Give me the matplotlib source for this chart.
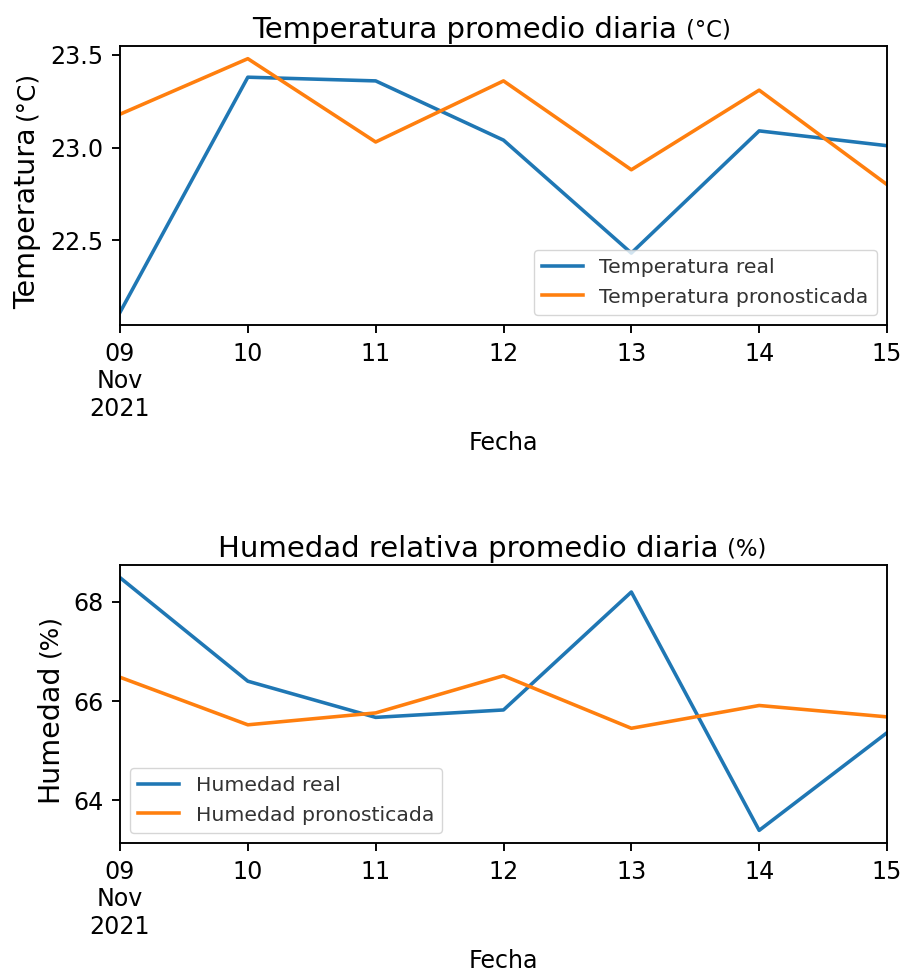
import matplotlib
matplotlib.use("Agg")
import matplotlib.pyplot as plt
import matplotlib.dates as mdates
from matplotlib.ticker import FuncFormatter, MultipleLocator, FormatStrFormatter
import pandas as pd

# Daily averages, 9-15 Nov 2021
fechas = pd.to_datetime(["2021-11-09", "2021-11-10", "2021-11-11", "2021-11-12",
                         "2021-11-13", "2021-11-14", "2021-11-15"])
temp_real = [22.11, 23.38, 23.36, 23.04, 22.43, 23.09, 23.01]
temp_pron = [23.18, 23.48, 23.03, 23.36, 22.88, 23.31, 22.80]
hum_real = [68.49, 66.40, 65.67, 65.82, 68.20, 63.39, 65.36]
hum_pron = [66.48, 65.52, 65.76, 66.51, 65.45, 65.91, 65.68]

S = 1.71  # overall scale of fonts and lines
FS_TICK = 10 * S
FS_TITLE = 12.25 * S
FS_YLABEL = 12 * S
FS_UNIT = 9.6 * S
FS_YUNIT = 10.5 * S
FS_LEG = 8.6 * S
LW = 1.5 * S

plt.rcParams.update({
    "font.family": ["DejaVu Sans"],
    "axes.linewidth": 0.8 * S,
    "xtick.major.size": 3.5 * S, "ytick.major.size": 3.5 * S,
    "xtick.major.width": 0.8 * S, "ytick.major.width": 0.8 * S,
    "xtick.major.pad": 3.5 * S, "ytick.major.pad": 3.5 * S,
    "xtick.labelsize": FS_TICK, "ytick.labelsize": FS_TICK,
})

fig = plt.figure(figsize=(9.04, 9.75), dpi=100)
ax1 = fig.add_axes([120 / 904, 1 - 325 / 975, 767 / 904, 279 / 975])
ax2 = fig.add_axes([120 / 904, 1 - 843 / 975, 767 / 904, 278 / 975])


def date_label(x, pos=None):
    d = mdates.num2date(x)
    if d.day == fechas[0].day and d.month == fechas[0].month:
        return d.strftime("%d\n%b\n%Y")
    return d.strftime("%d")


def style_axis(ax, step, fmt):
    ax.set_xlim(fechas[0], fechas[-1])
    ax.xaxis.set_major_locator(mdates.DayLocator())
    ax.xaxis.set_major_formatter(FuncFormatter(date_label))
    ax.yaxis.set_major_locator(MultipleLocator(step))
    ax.yaxis.set_major_formatter(FormatStrFormatter(fmt))
    ax.set_xlabel("Fecha", fontsize=FS_TICK, labelpad=4 * S)


ax1.plot(fechas, temp_real, color="#1f77b4", lw=LW, label="Temperatura real")
ax1.plot(fechas, temp_pron, color="#ff7f0e", lw=LW, label="Temperatura pronosticada")
style_axis(ax1, 0.5, "%.1f")
ax1.legend(loc="lower right", fontsize=FS_LEG, labelcolor="#333333")

ax2.plot(fechas, hum_real, color="#1f77b4", lw=LW, label="Humedad real")
ax2.plot(fechas, hum_pron, color="#ff7f0e", lw=LW, label="Humedad pronosticada")
style_axis(ax2, 2, "%d")
ax2.legend(loc="lower left", fontsize=FS_LEG, labelcolor="#333333")


def split_title(ax, main, unit):
    t = ax.set_title(f"{main} {unit}", fontsize=FS_TITLE, pad=5.5)
    fig.canvas.draw()
    r = fig.canvas.get_renderer()
    bb = t.get_window_extent(r)
    abb = ax.get_window_extent(r)
    t.set_text(main)
    t.set_ha("left")
    t.set_x((bb.x0 - 5 - abb.x0) / abb.width)
    ax.annotate(unit, xy=(1, 0.5), xycoords=t, xytext=(6, 0),
                textcoords="offset points", ha="left", va="center",
                fontsize=FS_UNIT)


def split_ylabel(ax, main, unit):
    lab = ax.set_ylabel(f"{main} {unit}", fontsize=FS_YLABEL, labelpad=4 * S)
    fig.canvas.draw()
    r = fig.canvas.get_renderer()
    bb = lab.get_window_extent(r)
    abb = ax.get_window_extent(r)
    lab.set_text(main)
    lab.set_ha("left")
    lab.set_y((bb.y0 - abb.y0) / abb.height)
    ax.annotate(unit, xy=(0.5, 1), xycoords=lab, xytext=(0, 5),
                textcoords="offset points", ha="center", va="bottom",
                rotation=90, fontsize=FS_YUNIT)


split_title(ax1, "Temperatura promedio diaria", "(°C)")
split_title(ax2, "Humedad relativa promedio diaria", "(%)")
split_ylabel(ax1, "Temperatura", "(°C)")
split_ylabel(ax2, "Humedad", "(%)")

fig.savefig("out.png", dpi=100, facecolor="white")
